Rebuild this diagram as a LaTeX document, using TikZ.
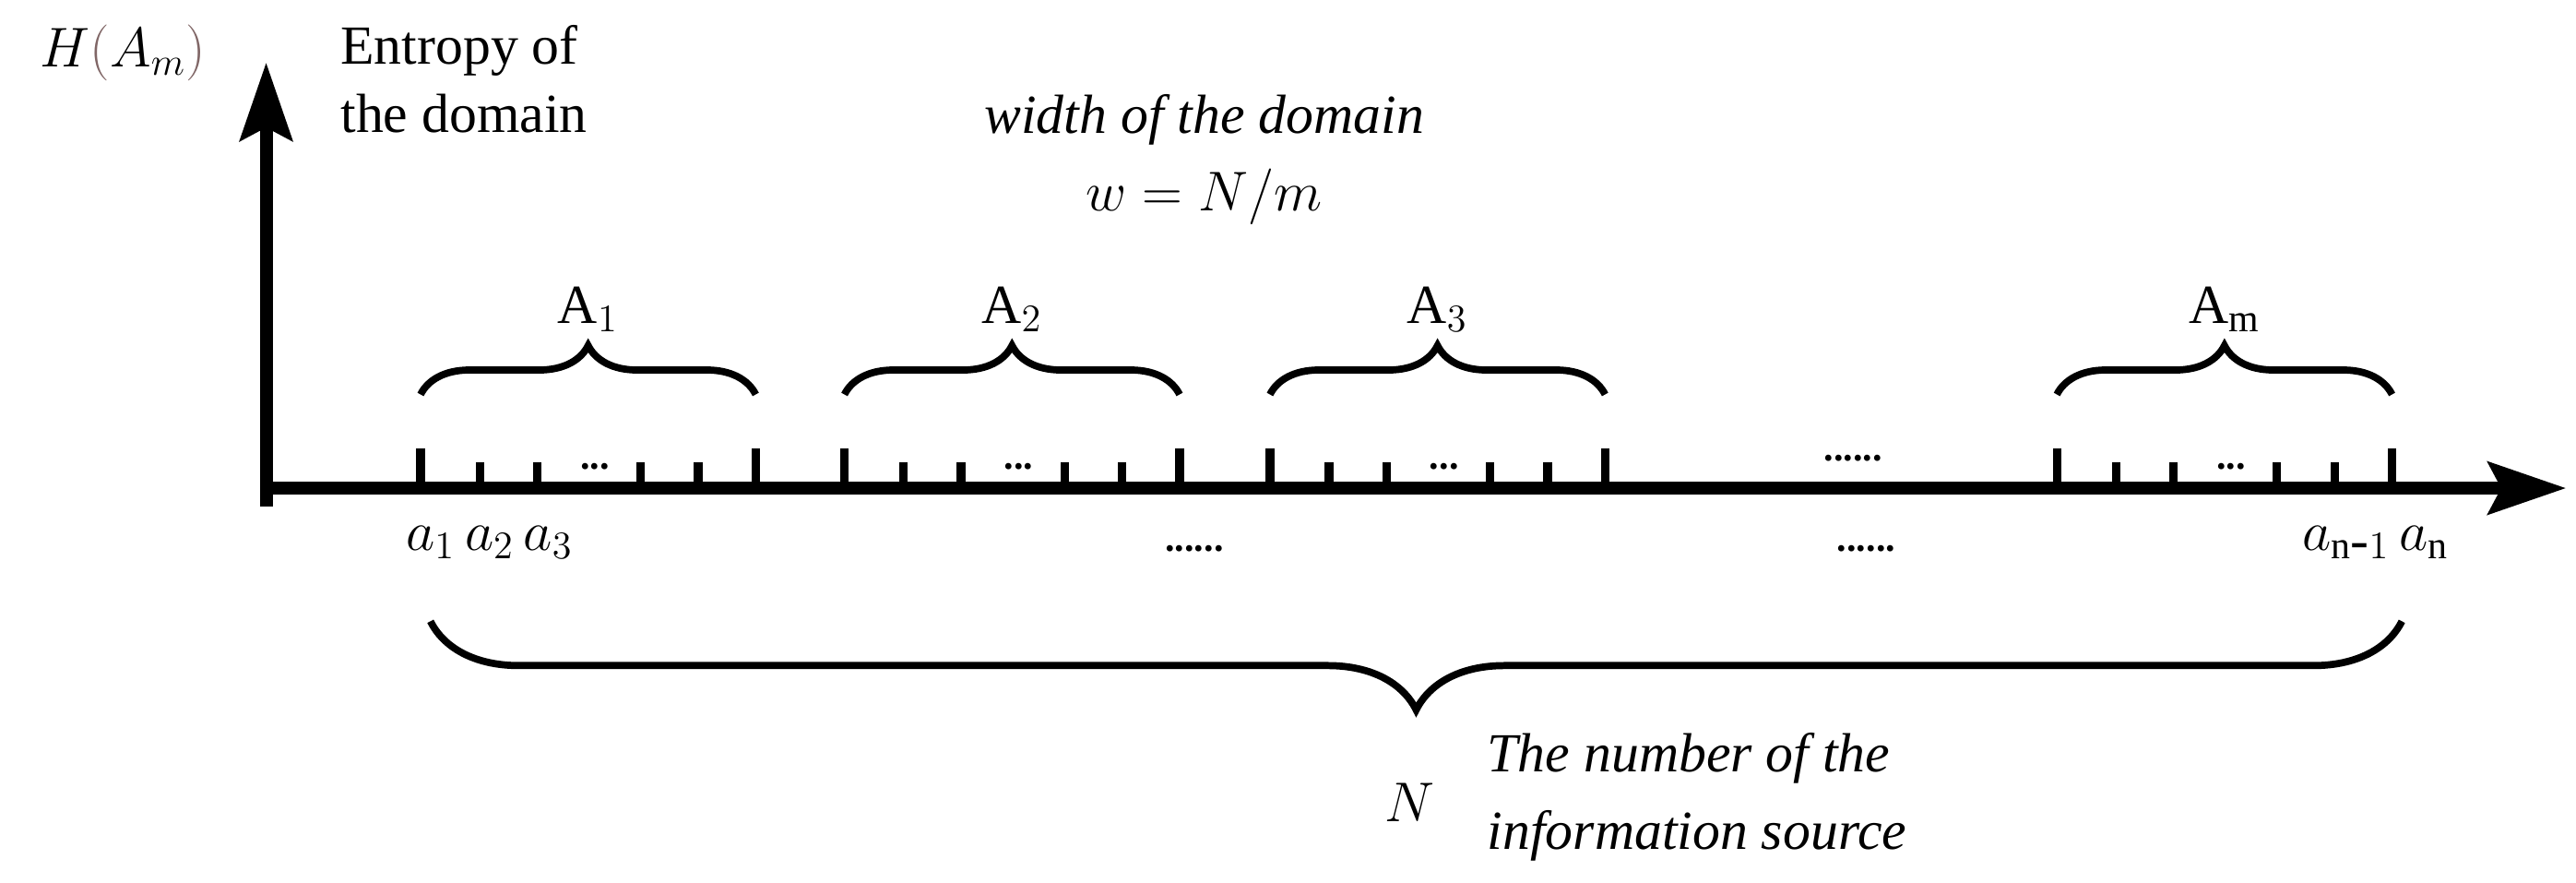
\documentclass[tikz,border=0pt]{standalone}
\usepackage{fontspec}
\setmainfont{Liberation Serif}
\usetikzlibrary{decorations.pathreplacing,arrows.meta}
\begin{document}
\begin{tikzpicture}[x=0.01781cm,y=-0.01781cm,
  axis/.style={line width=4pt},
  tick/.style={line width=2.6pt},
  br/.style={line width=2.2pt,decorate,decoration={brace,amplitude=#1}},
  txt/.style={font=\fontsize{17}{21}\selectfont,inner sep=0pt,align=left},
  itx/.style={font=\fontsize{17}{24}\selectfont\itshape,inner sep=0pt,align=center},
  dots/.style={font=\bfseries\fontsize{12}{12}\selectfont,inner sep=0pt}]
\useasboundingbox (0,0) rectangle (1568,537);
\coordinate (o) at (162,297);
\coordinate (xe) at (1562,297);
\coordinate (ye) at (162,38);
\coordinate (ob) at (162,308);
\draw[line width=4pt] (ob) -- (o);
\draw[axis,-{Stealth[length=24pt,width=16pt,inset=4pt]}] (o) -- (xe);
\draw[axis,-{Stealth[length=24pt,width=16pt,inset=4pt]}] (o) -- (ye);
\node[txt] (H) at (75,32) {$H\textcolor[rgb]{0.5,0.4,0.4}{(}A_m\textcolor[rgb]{0.5,0.4,0.4}{)}$};
\node[txt,anchor=west] (ent) at (207,48) {Entropy of\\the domain};
\node[itx] (wd) at (733,97) {width of the domain\\$w = N/m$};
\foreach \s/\lab/\n in {256/A$_1$/g1,514/A$_2$/g2,773/A$_3$/g3,1252/A$_\mathrm{m}$/gm}{
  \pgfmathsetmacro{\e}{\s+204}
  \foreach \d in {0,204}{\draw[tick] (\s+\d,297) -- (\s+\d,273);}
  \foreach \d in {36,71,134,169}{\draw[tick] (\s+\d,297) -- (\s+\d,281);}
  \node[dots] (\n dots) at (\s+106,284) {...};
  \coordinate (\n l) at (\s,240);
  \coordinate (\n r) at (\e,240);
  \draw[br=0.53cm] (\n l) -- (\n r);
  \node[txt] (\n lab) at (\s+102,188) {\lab};
}
\node[dots] (d1) at (1128,279) {......};
\node[dots] (d2) at (727,334) {......};
\node[dots] (d3) at (1136,334) {......};
\node[txt] (a1) at (298,330) {$a_1\,a_2\,a_3$};
\node[txt] (an) at (1446,330) {$a_{\mathrm{n}\mbox{-}1}\,a_\mathrm{n}$};
\coordinate (bl) at (262,378);
\coordinate (bright) at (1462,378);
\draw[br=0.96cm] (bright) -- (bl);
\node[txt] (N) at (858,488) {$N$};
\node[itx,align=left,anchor=west] (num) at (905,485) {The number of the\\information source};
\end{tikzpicture}
\end{document}
